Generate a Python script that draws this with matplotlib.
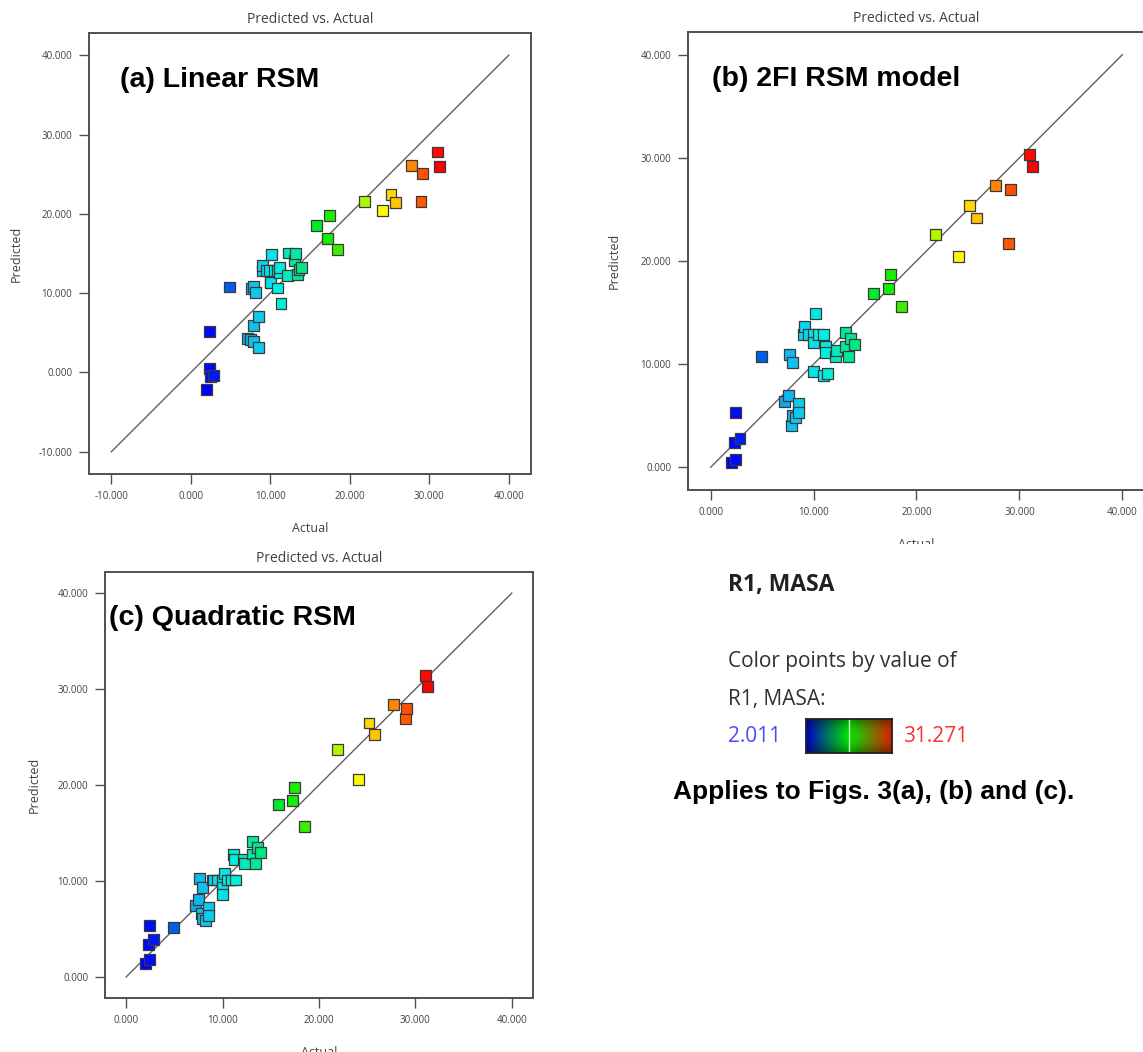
import numpy as np
import matplotlib
matplotlib.use("Agg")
import matplotlib.pyplot as plt
from matplotlib.colors import LinearSegmentedColormap, Normalize
from matplotlib.patches import Rectangle

# R1, MASA - actual values (same runs in every panel)
actual = [2.011, 2.30, 2.40, 2.43, 2.85, 4.90,
          7.17, 7.52, 7.65, 7.85, 7.91, 7.94, 8.20, 8.53, 8.56,
          8.98, 9.08, 9.50, 9.95, 9.97, 10.00, 10.15, 10.50, 10.92, 10.95, 11.35,
          11.16, 11.19, 12.16, 12.23, 13.10, 13.13, 13.42, 13.62, 13.94,
          15.80, 17.25, 17.50, 18.50, 21.89, 24.08, 25.19, 25.80, 27.72, 28.96, 29.10, 31.00, 31.271]

pred_linear = [-2.18, 0.54, 5.20, -0.50, -0.38, 10.78,
               4.30, 4.15, 10.60, 3.94, 5.87, 10.86, 10.10, 3.18, 7.04,
               12.80, 13.46, 12.90, 12.80, 11.36, 11.40, 14.84, 12.80, 12.90, 10.65, 8.68,
               12.60, 13.25, 12.20, 15.06, 14.09, 14.97, 12.33, 13.00, 13.25,
               18.58, 16.94, 19.75, 15.50, 21.60, 20.46, 22.40, 21.40, 26.12, 21.60, 25.10, 27.80, 26.00]

pred_2fi = [0.46, 2.36, 5.27, 0.75, 2.82, 10.78,
            6.34, 6.96, 10.94, 4.08, 5.05, 10.16, 4.82, 6.18, 5.34,
            12.91, 13.62, 12.91, 12.91, 12.14, 9.25, 14.95, 12.91, 12.91, 8.87, 9.10,
            11.68, 11.10, 10.78, 11.29, 11.68, 13.10, 10.74, 12.46, 11.91,
            16.89, 17.31, 18.67, 15.56, 22.59, 20.45, 25.34, 24.17, 27.28, 21.72, 26.89, 30.36, 29.16]

pred_quad = [1.42, 3.40, 5.38, 1.77, 3.93, 5.17,
             7.40, 8.02, 10.21, 6.63, 6.10, 9.30, 5.87, 7.22, 6.39,
             10.10, 10.10, 10.10, 10.10, 9.34, 8.54, 10.73, 10.10, 10.10, 10.10, 10.10,
             12.71, 12.19, 12.29, 11.84, 12.81, 14.13, 11.84, 13.51, 12.99,
             17.99, 18.40, 19.76, 15.66, 23.68, 20.59, 26.46, 25.28, 28.37, 26.95, 27.99, 31.43, 30.24]

panel_labels = ["(a) Linear RSM", "(b) 2FI RSM model", "(c) Quadratic RSM"]

W, H = 1143, 1052


def fx(x):
    return x / W


def fy(y):
    return 1 - y / H


def box(l, t, r, b):
    return [fx(l), fy(b), (r - l) / W, (b - t) / H]


point_cmap = LinearSegmentedColormap.from_list("de", [
    (0.0, "#0000ff"), (0.1, "#0060f0"), (0.2, "#10c0f0"), (0.3, "#00f0e8"),
    (0.4, "#00e890"), (0.5, "#00ee00"), (0.62, "#70f000"), (0.75, "#ffff00"),
    (0.82, "#ffc000"), (0.9, "#ff7000"), (1.0, "#ff0000")])
norm = Normalize(min(actual), max(actual))

fig = plt.figure(figsize=(W / 100, H / 100), dpi=100)
ui_font = ["Open Sans", "DejaVu Sans"]
grey = "#404040"

panels = [
    (box(89, 33, 531, 474), pred_linear, (-12.8, 42.8), -10, np.arange(-10, 41, 10), (120, 87), 11),
    (box(688, 32, 1145, 490), pred_2fi, (-2.2, 42.2), 0, np.arange(0, 41, 10), (712, 86), 14),
    (box(105, 572, 533, 998), pred_quad, (-2.2, 42.2), 0, np.arange(0, 41, 10), (109, 625), 12),
]

for i, (rect, pred, lim, start, ticks, lab, ypad) in enumerate(panels):
    ax = fig.add_axes(rect)
    ax.plot([start, 40], [start, 40], color="#606060", lw=1.0, zorder=1)
    ax.scatter(actual, pred, c=actual, cmap=point_cmap, norm=norm, marker="s",
               s=62, edgecolors="#3a3a3a", linewidths=0.9, zorder=3)
    ax.set_xlim(lim)
    ax.set_ylim(lim)
    ax.set_xticks(ticks)
    ax.set_yticks(ticks)
    ax.set_xticklabels(["%.3f" % t for t in ticks], fontsize=7, color=grey, family=ui_font)
    ax.set_yticklabels(["%.3f" % t for t in ticks], fontsize=7, color=grey, family=ui_font)
    ax.tick_params(direction="out", length=7, width=1, color="#505050", pad=5)
    for sp in ax.spines.values():
        sp.set_color("#505050")
        sp.set_linewidth(1.4)
    ax.set_title("Predicted vs. Actual", fontsize=10, color=grey, family=ui_font, pad=7)
    ax.set_xlabel("Actual", fontsize=9, color=grey, family=ui_font, labelpad=15)
    ax.set_ylabel("Predicted", fontsize=9, color=grey, family=ui_font, labelpad=ypad)
    fig.text(fx(lab[0]), fy(lab[1]), panel_labels[i], fontsize=20.5, fontweight="bold",
             family="Liberation Sans", va="baseline", ha="left")

# crop of the (b) x-axis label, as in the source image
fig.patches.append(Rectangle((fx(640), fy(560)), fx(1143) - fx(640), fy(544) - fy(560),
                             transform=fig.transFigure, facecolor="white", edgecolor="none",
                             zorder=10))

# colour legend
fig.text(fx(728), fy(591), "R1, MASA", fontsize=16.5, fontweight="bold", family=ui_font,
         color="#202020", va="baseline")
fig.text(fx(728), fy(667), "Color points by value of", fontsize=15, family=ui_font,
         color="#303030", va="baseline")
fig.text(fx(728), fy(705), "R1, MASA:", fontsize=15, family=ui_font,
         color="#303030", va="baseline")
fig.text(fx(728), fy(742), "%.3f" % min(actual), fontsize=15, family=ui_font,
         color="#4a4aff", va="baseline")
fig.text(fx(903), fy(742), "%.3f" % max(actual), fontsize=15, family=ui_font,
         color="#ff3030", va="baseline")

legend_cmap = LinearSegmentedColormap.from_list("bgr", ["#0000c8", "#00e600", "#dc1e00"])
grad = legend_cmap(np.linspace(0, 1, 256))[:, :3]
shade = 1 - 0.35 * np.abs(np.linspace(-1, 1, 30)) ** 2
img = shade[:, None, None] * grad[None, :, :]
cax = fig.add_axes(box(806, 719, 892, 753))
cax.imshow(img, aspect="auto", extent=(0, 1, 0, 1))
cax.axvline(0.5, color="#c8ffc8", lw=1)
cax.set_xticks([])
cax.set_yticks([])
for sp in cax.spines.values():
    sp.set_color("#202020")
    sp.set_linewidth(1.3)

fig.text(fx(673), fy(799), "Applies to Figs. 3(a), (b) and (c).", fontsize=19, fontweight="bold",
         family="Liberation Sans", va="baseline")

fig.savefig("out.png", dpi=100, facecolor="white")
